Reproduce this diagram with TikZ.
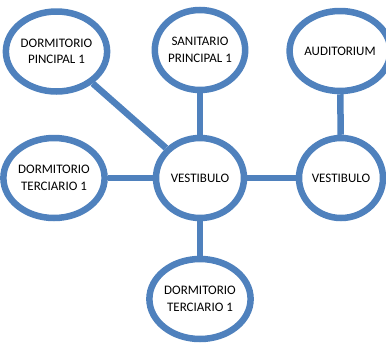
\documentclass[tikz,border=0pt]{standalone}
\usepackage{fontspec}
\setmainfont{Carlito}
\usetikzlibrary{shapes.geometric}
\definecolor{edgeblue}{HTML}{4F81BD}
\begin{document}
\begin{tikzpicture}[x=1pt,y=-1pt,
  room/.style={ellipse,draw=edgeblue,line width=6.5pt,fill=white,
    minimum width=#1,minimum height=80pt,inner sep=0pt,align=center,
    font=\fontsize{13}{16.5}\selectfont},
  room/.default=88pt,
  link/.style={draw=edgeblue,line width=6.5pt}]
\useasboundingbox (0,0) rectangle (386,346);
\node[room=92pt] (dp) at (56.5,51.5) {DORMITORIO\\PINCIPAL 1};
\node[room=88pt] (sp) at (200,50) {SANITARIO\\PRINCIPAL 1};
\node[room=84pt] (au) at (340,51) {AUDITORIUM};
\node[room=88pt] (dt) at (54,178) {DORMITORIO\\TERCIARIO 1};
\node[room=88pt] (vc) at (200,178) {VESTIBULO};
\node[room=84pt] (vr) at (341,178) {VESTIBULO};
\node[room=88pt] (db) at (200,299) {DORMITORIO\\TERCIARIO 1};
\draw[link] (dp) -- (vc);
\draw[link] (sp) -- (vc);
\draw[link] (dt) -- (vc);
\draw[link] (vc) -- (vr);
\draw[link] (vc) -- (db);
\draw[link] (au) -- (vr);
\end{tikzpicture}
\end{document}
